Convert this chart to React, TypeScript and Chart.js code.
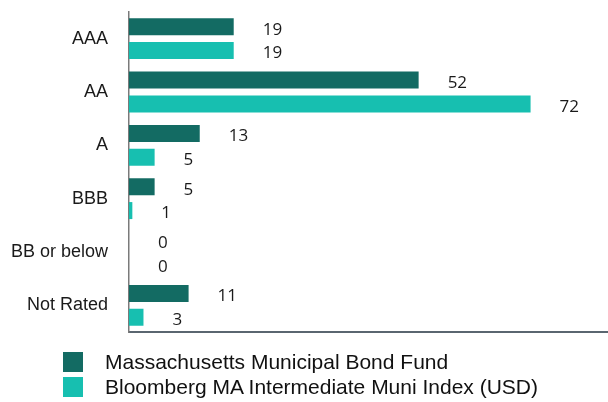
import React, { useEffect, useRef } from "react";
import { Chart, registerables } from "chart.js";

Chart.register(...registerables);

const categories = ["AAA", "AA", "A", "BBB", "BB or below", "Not Rated"];
const fundLabel = "Massachusetts Municipal Bond Fund";
const indexLabel = "Bloomberg MA Intermediate Muni Index (USD)";
const fundValues = [18.8, 52.0, 12.7, 4.6, 0, 10.7];
const indexValues = [18.8, 72.1, 4.6, 0.6, 0, 2.6];
const fundColor = "#136B63";
const indexColor = "#17BFB0";
const xMax = 86;

const valueLabelPlugin = {
  id: "valueLabels",
  afterDatasetsDraw(chart: any) {
    const ctx = chart.ctx;
    const xScale = chart.scales.x;
    ctx.save();
    ctx.font = "17px 'Open Sans', 'Liberation Sans', Arial, sans-serif";
    ctx.fillStyle = "#1a1a1a";
    ctx.textAlign = "left";
    ctx.textBaseline = "middle";
    chart.data.datasets.forEach((ds: any, di: number) => {
      const meta = chart.getDatasetMeta(di);
      meta.data.forEach((bar: any, i: number) => {
        const v = ds.data[i] as number;
        const end = xScale.getPixelForValue(v);
        ctx.fillText(String(Math.round(v)), end + 29, bar.y + 3);
      });
    });
    ctx.restore();
  },
};

export default function App() {
  const canvasRef = useRef<HTMLCanvasElement | null>(null);

  useEffect(() => {
    if (!canvasRef.current) return;
    const chart = new Chart(canvasRef.current, {
      type: "bar",
      data: {
        labels: categories,
        datasets: [
          {
            label: fundLabel,
            data: fundValues,
            backgroundColor: fundColor,
            categoryPercentage: 0.893,
            barPercentage: 0.714,
          },
          {
            label: indexLabel,
            data: indexValues,
            backgroundColor: indexColor,
            categoryPercentage: 0.893,
            barPercentage: 0.714,
          },
        ],
      },
      options: {
        indexAxis: "y",
        animation: false,
        responsive: true,
        maintainAspectRatio: false,
        layout: { padding: { top: 12, right: 0, left: 0, bottom: 0 } },
        plugins: {
          legend: { display: false },
          tooltip: { enabled: false },
        },
        scales: {
          x: {
            type: "linear",
            min: 0,
            max: xMax,
            ticks: { display: false },
            grid: { display: false, drawTicks: false },
            border: { display: true, color: "#5a6670", width: 2 },
            afterFit: (scale: any) => {
              scale.height = 70;
              scale.paddingLeft = 0;
              scale.paddingRight = 0;
            },
          },
          y: {
            type: "category",
            ticks: {
              padding: 21,
              color: "#1a1a1a",
              font: { family: "'Liberation Sans', Arial, sans-serif", size: 18 },
            },
            grid: { display: false, drawTicks: false },
            border: { display: true, color: "#7a7a7a", width: 1.5 },
            afterFit: (scale: any) => {
              scale.width = 129;
              scale.paddingTop = 0;
              scale.paddingBottom = 0;
            },
          },
        },
      },
      plugins: [valueLabelPlugin],
    } as any);
    return () => chart.destroy();
  }, []);

  const legendItems = [
    { label: fundLabel, color: fundColor },
    { label: indexLabel, color: indexColor },
  ];

  return (
    <div style={{ position: "absolute", left: 0, top: 0, width: 608, height: 402, background: "#fff" }}>
      <canvas ref={canvasRef} />
      <div style={{ position: "absolute", left: 63, top: 352 }}>
        {legendItems.map((it) => (
          <div
            key={it.label}
            style={{ display: "flex", alignItems: "center", height: 25, whiteSpace: "nowrap" }}
          >
            <span style={{ display: "inline-block", width: 20, height: 20, background: it.color, marginBottom: 5 }} />
            <span
              style={{
                marginLeft: 22,
                marginBottom: 5,
                fontFamily: "'Liberation Sans', Arial, sans-serif",
                fontSize: 21,
                color: "#111",
                lineHeight: "20px",
              }}
            >
              {it.label}
            </span>
          </div>
        ))}
      </div>
    </div>
  );
}
